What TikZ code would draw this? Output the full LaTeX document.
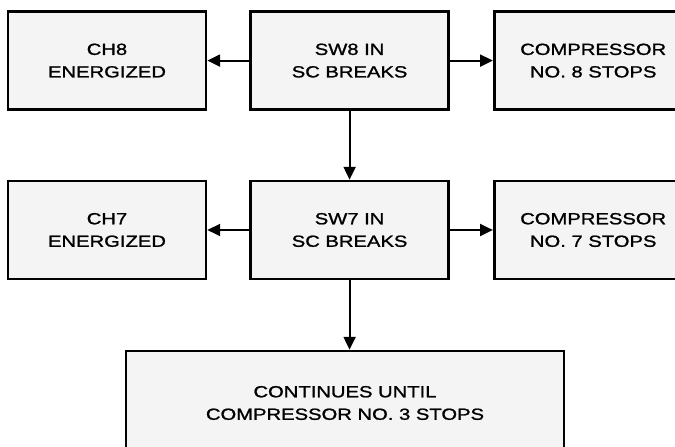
\documentclass[tikz,border=0pt]{standalone}
\usepackage{fontspec}
\newfontfamily\boxfont[FakeStretch=1.25,FakeBold=1.2]{Liberation Sans}
\definecolor{boxfill}{RGB}{244,244,244}
\usetikzlibrary{arrows.meta,positioning}

\begin{document}
\begin{tikzpicture}[
  blk/.style={draw,line width=1.9pt,fill=boxfill,minimum width=4.95cm,minimum height=2.45cm,
    font=\boxfont\fontsize{11.5}{16}\selectfont,align=center},
  flow/.style={line width=1.4pt,-{Triangle[length=3.2mm,width=3mm]}}]
  \useasboundingbox (0,0) rectangle (16.875,11.175);
  \clip (0,0) rectangle (16.875,11.175);
  % Row for switch 8
  \node[blk] (ch8) at (2.675,9.66) {CH8\\ENERGIZED};
  \node[blk] (sw8) at (8.74,9.66) {SW8 IN\\SC BREAKS};
  \node[blk] (comp8) at (14.83,9.66) {COMPRESSOR\\NO. 8 STOPS};
  % Row for switch 7
  \node[blk] (ch7) at (2.675,5.425) {CH7\\ENERGIZED};
  \node[blk] (sw7) at (8.74,5.425) {SW7 IN\\SC BREAKS};
  \node[blk] (comp7) at (14.83,5.425) {COMPRESSOR\\NO. 7 STOPS};
  % Last step
  \node[blk,minimum width=10.95cm,minimum height=2.6cm] (cont) at (8.625,1.1) {CONTINUES UNTIL\\COMPRESSOR NO. 3 STOPS};
  % Connectors
  \draw[flow] (sw8) -- (ch8);
  \draw[flow] (sw8) -- (comp8);
  \draw[flow] (sw8) -- (sw7);
  \draw[flow] (sw7) -- (ch7);
  \draw[flow] (sw7) -- (comp7);
  \draw[flow] (sw7.south) -- (sw7.south |- cont.north);
\end{tikzpicture}
\end{document}
